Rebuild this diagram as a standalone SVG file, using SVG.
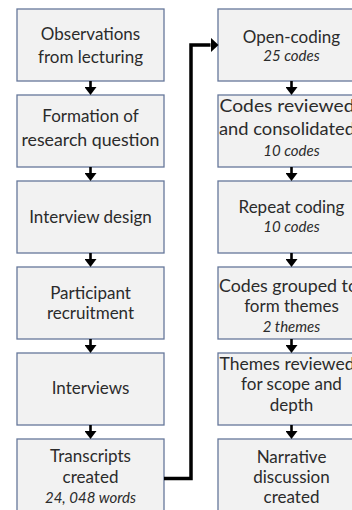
<svg xmlns="http://www.w3.org/2000/svg" width="352" height="510" viewBox="0 0 352 510">
<style>
.box{fill:#f2f2f2;stroke:#66779a;stroke-width:1.3}
text{font-family:Lato,"Open Sans","Liberation Sans",sans-serif;font-size:17px;fill:#2b2b2b;text-anchor:middle}
.it{font-style:italic;font-size:15px}
.l{text-anchor:start}
.sa{stroke:#000;stroke-width:2.6;fill:none}
.big{stroke:#000;stroke-width:3.5;fill:none;stroke-linejoin:miter}
</style>
<defs>
<marker id="sm" markerUnits="userSpaceOnUse" markerWidth="8" markerHeight="12" viewBox="0 0 8 12" refX="0" refY="6" orient="auto"><path d="M0,0 L8,6 L0,12 Z" fill="#000"/></marker>
<marker id="bg" markerUnits="userSpaceOnUse" markerWidth="8" markerHeight="15" viewBox="0 0 8 15" refX="0" refY="7.5" orient="auto"><path d="M0,0 L8,7.5 L0,15 Z" fill="#000"/></marker>
</defs>
<rect width="352" height="510" fill="#fff"/>
<g id="n1"><rect class="box" x="17" y="9" width="147" height="72"/><text x="90.5" y="39.5">Observations</text><text x="90.5" y="63">from lecturing</text></g>
<g id="n2"><rect class="box" x="17" y="95" width="147" height="72"/><text x="90.5" y="122">Formation of</text><text x="90.5" y="146" textLength="138" lengthAdjust="spacingAndGlyphs">research question</text></g>
<g id="n3"><rect class="box" x="17" y="181" width="147" height="72"/><text x="90.5" y="223">Interview design</text></g>
<g id="n4"><rect class="box" x="17" y="267" width="147" height="72"/><text x="90.5" y="299">Participant</text><text x="90.5" y="319">recruitment</text></g>
<g id="n5"><rect class="box" x="17" y="353" width="147" height="72"/><text x="90.5" y="393.5">Interviews</text></g>
<g id="n6"><rect class="box" x="17" y="439" width="147" height="72"/><text x="90.5" y="461.5">Transcripts</text><text x="90.5" y="482.5">created</text><text class="it" x="90.5" y="502.5">24, 048 words</text></g>
<g id="n7"><rect class="box" x="218" y="9" width="147" height="72"/><text x="291.5" y="42.5">Open-coding</text><text class="it" x="291.5" y="61">25 codes</text></g>
<g id="n8"><rect class="box" x="218" y="95" width="147" height="72"/><text class="l" x="219.5" y="112" textLength="135" lengthAdjust="spacingAndGlyphs">Codes reviewed</text><text class="l" x="219" y="135" textLength="136" lengthAdjust="spacingAndGlyphs">and consolidated</text><text class="it" x="291.5" y="156">10 codes</text></g>
<g id="n9"><rect class="box" x="218" y="181" width="147" height="72"/><text x="291.5" y="213">Repeat coding</text><text class="it" x="291.5" y="231.5">10 codes</text></g>
<g id="n10"><rect class="box" x="218" y="267" width="147" height="72"/><text class="l" x="219" y="291.5" textLength="139" lengthAdjust="spacingAndGlyphs">Codes grouped to</text><text x="291.5" y="311.5">form themes</text><text class="it" x="291.5" y="331.5">2 themes</text></g>
<g id="n11"><rect class="box" x="218" y="353" width="147" height="72"/><text class="l" x="219.5" y="370" textLength="135" lengthAdjust="spacingAndGlyphs">Themes reviewed</text><text x="291.5" y="390">for scope and</text><text x="291.5" y="411">depth</text></g>
<g id="n12"><rect class="box" x="218" y="439" width="147" height="72"/><text x="291.5" y="463">Narrative</text><text x="291.5" y="483">discussion</text><text x="291.5" y="503">created</text></g>
<g id="connectors">
<line class="sa" x1="90.5" y1="81" x2="90.5" y2="87" marker-end="url(#sm)"/>
<line class="sa" x1="90.5" y1="167" x2="90.5" y2="173" marker-end="url(#sm)"/>
<line class="sa" x1="90.5" y1="253" x2="90.5" y2="259" marker-end="url(#sm)"/>
<line class="sa" x1="90.5" y1="339" x2="90.5" y2="345" marker-end="url(#sm)"/>
<line class="sa" x1="90.5" y1="425" x2="90.5" y2="431" marker-end="url(#sm)"/>
<line class="sa" x1="291.5" y1="81" x2="291.5" y2="87" marker-end="url(#sm)"/>
<line class="sa" x1="291.5" y1="167" x2="291.5" y2="173" marker-end="url(#sm)"/>
<line class="sa" x1="291.5" y1="253" x2="291.5" y2="259" marker-end="url(#sm)"/>
<line class="sa" x1="291.5" y1="339" x2="291.5" y2="345" marker-end="url(#sm)"/>
<line class="sa" x1="291.5" y1="425" x2="291.5" y2="431" marker-end="url(#sm)"/>
<path class="big" d="M164,478.5 H191 V45 H210.5" marker-end="url(#bg)"/>
</g>
</svg>
